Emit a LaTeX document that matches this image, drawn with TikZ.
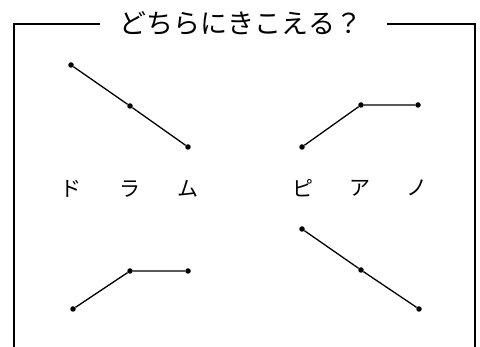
\documentclass[tikz,border=0pt]{standalone}
\usepackage{fontspec}
\newfontfamily\jpfont{Noto Sans CJK JP}
\begin{document}
\begin{tikzpicture}[x=1pt,y=-1pt,
  dot/.style={circle,fill=black,inner sep=0pt,minimum size=5.5pt},
  seg/.style={line width=1.3pt},
  frame/.style={line width=1.8pt},
  lbl/.style={font=\jpfont\fontsize{21}{21}\selectfont,inner sep=0pt},
  ttl/.style={font=\jpfont\fontsize{27}{27}\selectfont,inner sep=0pt}]
\useasboundingbox (0,0) rectangle (480,347);
% frame
\node[ttl] (title) at (241,23) {どちらにきこえる？};
\coordinate (tl) at (14,24);
\coordinate (tr) at (475,24);
\coordinate (bl) at (14,347);
\coordinate (br) at (475,347);
\coordinate (tla) at (100,24);
\coordinate (tra) at (387,24);
\draw[frame] (bl) -- (tl) -- (tla);
\draw[frame] (tra) -- (tr) -- (br);
% left top
\node[dot] (a1) at (71,65) {};
\node[dot] (a2) at (130,106) {};
\node[dot] (a3) at (188,147) {};
\draw[seg] (a1) -- (a2) -- (a3);
% labels
\node[lbl] (d1) at (71,189) {ド};
\node[lbl] (d2) at (130,189) {ラ};
\node[lbl] (d3) at (188,189) {ム};
\node[lbl] (p1) at (303,188) {ピ};
\node[lbl] (p2) at (360,188) {ア};
\node[lbl] (p3) at (417,188) {ノ};
% left bottom
\node[dot] (b1) at (73,309) {};
\node[dot] (b2) at (130,271) {};
\node[dot] (b3) at (188,271) {};
\draw[seg] (b1) -- (b2) -- (b3);
% right top
\node[dot] (c1) at (302,147) {};
\node[dot] (c2) at (361,105) {};
\node[dot] (c3) at (418,105) {};
\draw[seg] (c1) -- (c2) -- (c3);
% right bottom
\node[dot] (e1) at (302,229) {};
\node[dot] (e2) at (361,270) {};
\node[dot] (e3) at (419,309) {};
\draw[seg] (e1) -- (e2) -- (e3);
\end{tikzpicture}
\end{document}
